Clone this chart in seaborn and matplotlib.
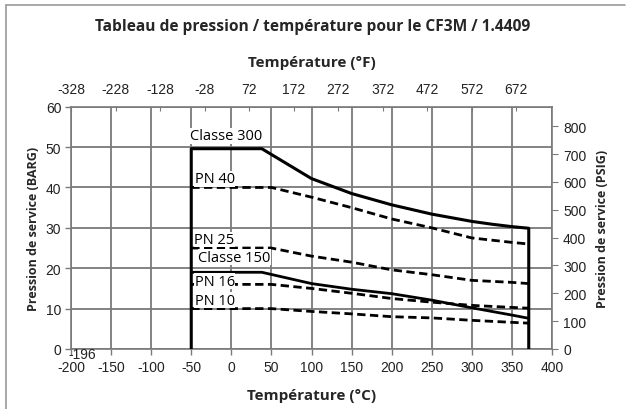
import matplotlib
matplotlib.use("Agg")
import matplotlib.pyplot as plt
import seaborn as sns
import numpy as np
import pandas as pd
from matplotlib.lines import Line2D

# ---------------- data ----------------
temps_class = [-50, 38, 100, 150, 200, 250, 300, 325, 350, 371]
classe300 = [49.6, 49.6, 42.2, 38.5, 35.7, 33.4, 31.6, 30.9, 30.3, 29.9]
classe150 = [19.0, 19.0, 16.2, 14.8, 13.7, 12.1, 10.2, 9.3, 8.4, 7.6]

temps_pn = [-50, 50, 100, 150, 200, 250, 300, 350, 371]
pn40 = [40, 40, 37.6, 35.0, 32.2, 30.0, 27.5, 26.4, 26.0]
pn25 = [25, 25, 23.0, 21.5, 19.6, 18.4, 17.0, 16.5, 16.2]
pn16 = [16, 16, 15.0, 13.8, 12.5, 11.6, 10.8, 10.3, 10.1]
pn10 = [10, 10, 9.3, 8.7, 8.0, 7.7, 7.1, 6.6, 6.4]

c_ticks = [-200, -150, -100, -50, 0, 50, 100, 150, 200, 250, 300, 350, 400]
f_ticks = [-328, -228, -128, -28, 72, 172, 272, 372, 472, 572, 672]
bar_ticks = [0, 10, 20, 30, 40, 50, 60]
psi_ticks = [0, 100, 200, 300, 400, 500, 600, 700, 800]

title = "Tableau de pression / température pour le CF3M / 1.4409"

# ---------------- style ----------------
sns.set_style("whitegrid")
plt.rcParams["font.family"] = ["Liberation Sans", "DejaVu Sans"]
plt.rcParams["axes.unicode_minus"] = False
LABEL_FONT = ["Open Sans", "DejaVu Sans"]

fig = plt.figure(figsize=(6.26, 4.10), dpi=100)
ax = fig.add_axes([71 / 626, 1 - 350 / 410, (552 - 71) / 626, (350 - 107.7) / 410])

grid_col = "#7a7a7a"

def c2f(c):
    return np.asarray(c) * 1.8 + 32

def bar2psi(b):
    return np.asarray(b) * 14.5038

# outlined class lines (vertical limits at both ends)
def outline(t, v):
    return [t[0]] + list(t) + [t[-1]], [0] + list(v) + [0]

x300, y300 = outline(temps_class, classe300)
df300 = pd.DataFrame({"t": x300, "p": y300})
sns.lineplot(data=df300, x="t", y="p", ax=ax, color="black", linewidth=2.2,
             estimator=None, sort=False, zorder=4)
df150 = pd.DataFrame({"t": temps_class, "p": classe150})
sns.lineplot(data=df150, x="t", y="p", ax=ax, color="black", linewidth=2.0,
             estimator=None, sort=False, zorder=4)

for vals in [pn40, pn25, pn16, pn10]:
    d = pd.DataFrame({"t": temps_pn, "p": vals})
    sns.lineplot(data=d, x="t", y="p", ax=ax, color="black", linewidth=2.0,
                 estimator=None, sort=False, linestyle=(0, (3, 1.6)), zorder=4)

ax.set_xlim(-200, 400)
ax.set_ylim(0, 60)
ax.set_xticks(c_ticks)
ax.set_yticks(bar_ticks)
ax.set_axisbelow(True)
ax.grid(True, which="major", axis="both", color=grid_col, linewidth=1.3, linestyle="-", alpha=1.0)

for s in ax.spines.values():
    s.set_visible(True)
    s.set_color(grid_col)
    s.set_linewidth(1.2)
ax.tick_params(axis="both", labelsize=10, colors="#222222", length=4,
               direction="out", color=grid_col, width=1, bottom=True, left=True)
ax.tick_params(axis="x", pad=4)
ax.tick_params(axis="y", pad=3)

# series labels
lab_kw = dict(fontsize=10.5, family=LABEL_FONT, ha="left", va="center", color="black",
              bbox=dict(facecolor="white", edgecolor="none", pad=0.3), zorder=5)
ax.text(-52, 52.8, "Classe 300", **lab_kw)
ax.text(-45.5, 42.2, "PN 40", **lab_kw)
ax.text(-46.5, 27.1, "PN 25", **lab_kw)
ax.text(-41.5, 22.7, "Classe 150", **lab_kw)
ax.text(-45.5, 16.8, "PN 16", **lab_kw)
ax.text(-45.5, 12.1, "PN 10", **lab_kw)
ax.text(-203.5, -1.3, "-196", fontsize=10, ha="left", va="center", color="#222222", zorder=5)

# twin axes for °F (top) and PSIG (right)
top = ax.twiny()
top.set_xlim(*c2f(ax.get_xlim()))
top.set_xticks(f_ticks)
top.grid(False)
top.tick_params(labelsize=10, colors="#222222", direction="in", length=3, color=grid_col, pad=8,
                top=True, bottom=False)
for s in top.spines.values():
    s.set_visible(False)
top.patch.set_visible(False)
top.set_xlabel("Température (°F)", fontsize=11, fontweight="bold", family=LABEL_FONT, labelpad=11)

right = ax.twinx()
right.set_ylim(*bar2psi(ax.get_ylim()))
right.set_yticks(psi_ticks)
right.grid(False)
right.tick_params(labelsize=10, colors="#222222", direction="out", length=4, color=grid_col, pad=4,
                  right=True, left=False)
for s in right.spines.values():
    s.set_visible(False)
right.patch.set_visible(False)
right.set_ylabel("Pression de service (PSIG)", fontsize=9, fontweight="bold", family=LABEL_FONT,
                 labelpad=7)

ax.set_ylabel("Pression de service (BARG)", fontsize=9, fontweight="bold", family=LABEL_FONT,
              labelpad=4)
ax.set_xlabel("Température (°C)", fontsize=11, fontweight="bold", family=LABEL_FONT, labelpad=10)

fig.text(0.5, 1 - 27 / 410, title, ha="center", va="center", fontsize=11.2,
         fontweight="bold", family=LABEL_FONT)

# frame lines of the figure (left and top)
fig.add_artist(Line2D([6 / 626, 6 / 626], [0, 1 - 6 / 410], color="#9a9a9a", linewidth=1.2))
fig.add_artist(Line2D([6 / 626, 625 / 626], [1 - 6 / 410, 1 - 6 / 410], color="#9a9a9a", linewidth=1.2))

fig.savefig("out.png", dpi=100)
